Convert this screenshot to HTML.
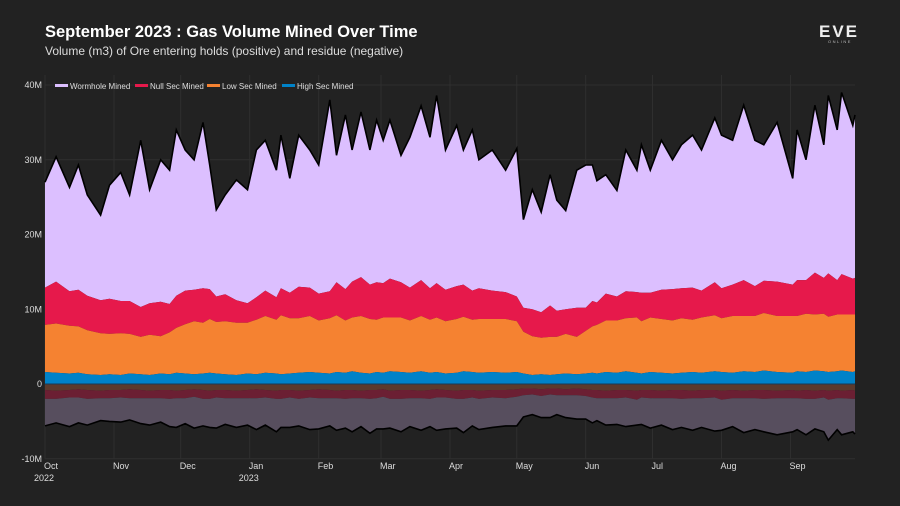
<!DOCTYPE html>
<html><head><meta charset="utf-8"><style>
body{margin:0;background:#222;}
svg{display:block;font-family:"Liberation Sans",sans-serif;}
</style></head><body>
<svg id="chart" width="900" height="506" viewBox="0 0 900 506">
<rect width="900" height="506" fill="#222"/>
<text x="45" y="37" fill="#fff" font-size="16.5" font-weight="bold">September 2023 : Gas Volume Mined Over Time</text>
<text x="45" y="55" fill="#ddd" font-size="12">Volume (m3) of Ore entering holds (positive) and residue (negative)</text>
<g>
<text x="839" y="37" fill="#eee" font-size="17" font-weight="bold" text-anchor="middle" letter-spacing="2">EVE</text>
<text x="840" y="43" fill="#bbb" font-size="4" text-anchor="middle" letter-spacing="1.5">ONLINE</text>
</g>
<g id="grid"></g>
<g id="areas"></g>
<g id="axes"></g>
<g id="legend"></g>
</svg>
<script>
const days=[0,5,11,15,19,25,29,34,38,43,47,52,56,59,63,67,71,74,77,81,86,91,95,99,104,106,110,114,119,123,128,131,135,138,142,146,149,152,155,160,164,169,173,176,180,185,188,192,195,201,207,212,215,219,223,227,230,234,239,243,246,248,252,257,261,266,268,272,277,282,286,291,295,301,304,309,314,319,323,329,336,338,342,346,350,352,356,358,363,365];
const totalMined=[27,30.4,26.3,29.3,25.3,22.6,26.6,28.3,25.3,32.6,26,30,28.6,34,31.3,30,35,29.3,23.3,25.3,27.3,26,31.3,32.6,28.6,33.3,27.5,33.3,31.3,29.3,38,30.6,36,31.3,36.4,31.3,35.3,32.6,35.3,30.6,33,37.2,33,38.6,31.3,34.6,31.3,34,30,31.3,28.6,31.5,22,26,23,28,24.6,23.2,28.6,29.3,29.3,27.2,28,25.9,31.3,28.6,32,28.6,32.6,30,32,33.3,31.3,35.6,33.3,32.6,37.3,32.6,32,35,27.5,34,30,37.3,32,38.6,34,39,34.6,36];
const highSec=[1.6,1.5,1.4,1.5,1.3,1.2,1.3,1.2,1.4,1.3,1.2,1.4,1.3,1.5,1.4,1.3,1.4,1.5,1.4,1.3,1.2,1.4,1.3,1.5,1.4,1.3,1.4,1.5,1.6,1.5,1.4,1.6,1.5,1.7,1.5,1.4,1.6,1.5,1.7,1.6,1.5,1.7,1.5,1.6,1.4,1.5,1.7,1.6,1.5,1.6,1.5,1.6,1.4,1.2,1.3,1.2,1.3,1.4,1.3,1.4,1.5,1.4,1.6,1.5,1.7,1.5,1.4,1.6,1.5,1.4,1.5,1.6,1.5,1.7,1.6,1.5,1.7,1.6,1.8,1.6,1.5,1.7,1.6,1.8,1.7,1.6,1.7,1.8,1.6,1.7];
const lowSec=[6.3,6.6,6.4,6.2,5.9,5.6,5.4,5.6,5.3,5.0,5.4,5.0,5.6,6.0,6.6,7.1,6.8,7.2,6.9,7.1,7.0,6.8,7.3,7.6,7.2,7.9,7.4,7.3,7.5,7.0,7.4,7.6,7.0,7.2,7.6,7.3,7.0,7.4,7.2,7.3,7.0,7.4,7.1,7.3,7.0,7.2,7.3,7.0,7.2,7.1,7.2,6.8,5.6,5.2,4.9,5.1,5.0,5.3,5.0,5.7,6.2,6.5,6.9,7.0,7.1,7.4,7.0,7.3,7.2,7.1,7.3,7.0,7.4,7.5,7.2,7.6,7.4,7.5,7.7,7.5,7.6,7.4,7.8,7.5,7.7,7.4,7.6,7.5,7.7,7.6];
const nullSec=[5.0,5.6,4.6,4.9,4.6,4.4,4.7,4.3,4.4,4.0,4.2,4.6,3.8,4.3,4.5,4.2,4.6,4.0,3.4,3.6,3.0,2.6,3.0,3.4,3.0,3.6,3.4,4.2,3.8,3.6,3.6,4.4,4.2,4.8,5.2,4.6,5.0,4.6,5.2,4.7,4.4,4.8,4.2,4.6,4.2,4.4,4.3,3.9,4.1,3.8,3.6,3.3,3.2,3.6,3.4,4.2,3.5,3.3,3.9,3.1,3.4,3.0,3.6,3.2,3.6,3.4,3.8,3.3,3.9,4.2,4.0,4.3,3.6,4.4,4.0,4.2,4.8,4.0,4.3,4.6,4.2,4.8,4.5,5.6,4.8,5.8,4.6,5.4,4.8,4.9];
const lowResidue=[0.8,0.9,0.8,0.7,0.8,0.9,0.8,0.8,0.7,0.8,0.9,0.8,0.8,0.9,0.8,0.7,0.8,0.9,0.8,0.8,0.9,0.8,0.7,0.8,0.9,0.8,0.8,0.9,0.8,0.7,0.8,0.9,0.8,0.8,0.9,0.8,0.8,0.7,0.9,0.8,0.8,0.9,0.8,0.7,0.8,0.9,0.8,0.8,0.9,0.8,0.8,0.7,0.6,0.6,0.7,0.6,0.6,0.7,0.6,0.7,0.8,0.8,0.9,0.8,0.8,0.9,0.8,0.8,0.9,0.8,0.8,0.9,0.8,0.8,0.9,0.8,0.9,0.8,0.8,0.9,0.8,0.9,0.8,0.9,0.8,0.9,0.8,0.9,0.8,0.9];
const nullResidue=[1.2,1.1,1.0,1.1,1.2,1.0,1.1,1.0,1.2,1.1,1.0,1.1,1.2,1.0,1.1,1.0,1.2,1.1,1.0,1.1,1.0,1.1,1.2,1.0,1.1,1.2,1.0,1.1,1.0,1.2,1.1,1.0,1.2,1.1,1.0,1.2,1.1,1.0,1.1,1.2,1.1,1.0,1.2,1.1,1.0,1.1,1.2,1.0,1.1,1.0,1.1,1.0,0.9,0.8,0.9,0.8,0.9,0.8,0.9,0.9,1.0,1.1,1.0,1.1,1.0,1.2,1.0,1.1,1.0,1.1,1.2,1.0,1.1,1.0,1.2,1.1,1.0,1.1,1.2,1.0,1.1,1.0,1.2,1.1,1.0,1.2,1.1,1.0,1.2,1.1];
const wormholeResidue=[3.6,3.2,3.9,3.4,3.5,3.0,3.1,3.3,2.9,3.4,3.6,3.2,3.7,3.9,3.4,4.2,3.6,3.8,4.1,3.5,3.9,3.6,4.2,3.7,4.4,3.8,4.0,3.6,4.3,4.1,3.7,4.3,3.9,4.5,3.8,4.6,4.1,4.3,3.9,4.4,3.8,4.3,3.7,4.4,4.2,3.9,4.5,3.8,4.1,4.0,3.7,3.9,2.9,2.7,2.9,3.1,2.6,3.0,3.2,3.1,3.4,3.0,3.6,3.5,3.9,3.4,3.6,4.0,3.6,4.2,3.8,4.3,3.9,4.5,4.1,3.8,4.6,4.2,4.4,4.9,4.5,4.2,4.8,4.0,4.6,5.4,4.2,4.9,4.4,4.7];
const yTicks=[40,30,20,10,0,-10];
const yTickLabels=["40M","30M","20M","10M","0","-10M"];
const monthDays=[0,31,61,92,123,151,182,212,243,273,304,335];
const monthLabels=["Oct","Nov","Dec","Jan","Feb","Mar","Apr","May","Jun","Jul","Aug","Sep"];
const yearLabels=["2022","","","2023","","","","","","","",""];

const NS="http://www.w3.org/2000/svg";
const X0=45,X1=855,DMAX=364,Y0=384,PXM=7.475;
const xs=d=>X0+Math.min(d,DMAX)/DMAX*(X1-X0);
const ys=v=>Y0-v*PXM;
function mk(tag,attrs,parent){const e=document.createElementNS(NS,tag);for(const k in attrs)e.setAttribute(k,attrs[k]);parent.appendChild(e);return e;}
const grid=document.getElementById('grid'),areas=document.getElementById('areas'),axes=document.getElementById('axes'),legend=document.getElementById('legend');

yTicks.forEach((t,i)=>{
  const l=mk('line',{x1:X0,x2:X1,y1:ys(t),y2:ys(t),stroke:'#2f2f2f','stroke-width':1},grid);
  
  
  const tx=mk('text',{x:42,y:ys(t)+3,fill:'#ddd','font-size':9,'text-anchor':'end'},axes);
  tx.textContent=yTickLabels[i];
  
  
});
monthDays.forEach((d,i)=>{
  const l=mk('line',{x1:xs(d),x2:xs(d),y1:75,y2:ys(-10),stroke:'#2f2f2f','stroke-width':1},grid);
  
  
  const tx=mk('text',{x:xs(d)-1,y:469,fill:'#ddd','font-size':9},axes);
  tx.textContent=monthLabels[i];
  
  
  if(yearLabels[i]){
    const ty=mk('text',{x:xs(d)-11,y:481,fill:'#ddd','font-size':9},axes);
    ty.textContent=yearLabels[i];
    
    
  }
});

const n=days.length;
const b0=new Array(n).fill(0);
const b1=days.map((_,i)=>highSec[i]);
const b2=days.map((_,i)=>b1[i]+lowSec[i]);
const b3=days.map((_,i)=>b2[i]+nullSec[i]);
const b4=days.map((_,i)=>totalMined[i]);
const n1=days.map((_,i)=>-lowResidue[i]);
const n2=days.map((_,i)=>n1[i]-nullResidue[i]);
const n3=days.map((_,i)=>n2[i]-wormholeResidue[i]);
function band(lo,hi,fill,name){
  let d='M'+days.map((dd,i)=>xs(dd).toFixed(1)+','+ys(hi[i]).toFixed(1)).join('L');
  for(let i=n-1;i>=0;i--)d+='L'+xs(days[i]).toFixed(1)+','+ys(lo[i]).toFixed(1);
  const p=mk('path',{d:d+'Z',fill:fill},areas);
  
  
}
band(b3,b4,'#dcbfff','wormhole-mined-area');
band(b2,b3,'#e6194b','null-sec-mined-area');
band(b1,b2,'#f58231','low-sec-mined-area');
band(b0,b1,'#0082c8','high-sec-mined-area');
band(n1,b0,'#5c3a2c','low-sec-residue-area');
band(n2,n1,'#6b1f33','null-sec-residue-area');
band(n3,n2,'#574e5e','wormhole-residue-area');
function edge(arr,name){
  const p=mk('path',{d:'M'+days.map((dd,i)=>xs(dd).toFixed(1)+','+ys(arr[i]).toFixed(1)).join('L'),fill:'none',stroke:'#000','stroke-width':1.6},areas);
  
  
}
edge(b4,'total-outline');
edge(n3,'residue-outline');
const zl=mk('line',{x1:X0,x2:X1,y1:Y0,y2:Y0,stroke:'#1a3a55','stroke-width':1},areas);



const legNames=["Wormhole Mined","Null Sec Mined","Low Sec Mined","High Sec Mined"];
const legColors=["#dcbfff","#e6194b","#f58231","#0082c8"];
const legX=[55,135,207,282];
legNames.forEach((nm,i)=>{
  const g=mk('g',{},legend);
  
  
  mk('rect',{x:legX[i],y:84,width:13,height:3,fill:legColors[i]},g);
  const t=mk('text',{x:legX[i]+15,y:89,fill:'#ddd','font-size':8},g);
  t.textContent=nm;
});
</script>
</body></html>
